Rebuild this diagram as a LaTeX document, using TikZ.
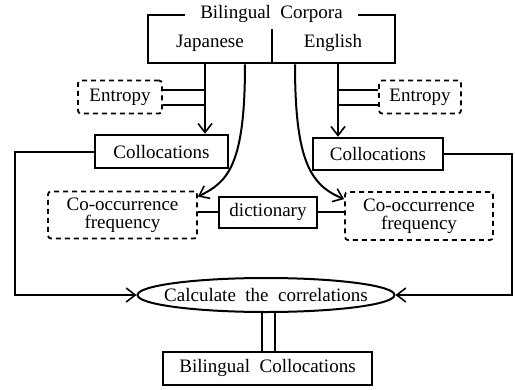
\documentclass[tikz,border=0pt]{standalone}
\usepackage{fontspec}
\setmainfont{Liberation Serif}
\usetikzlibrary{shapes.geometric,arrows.meta}
\tikzset{
	lbl/.style={font=\fontsize{19}{18}\selectfont, inner sep=0pt},
	solidbox/.style={draw, line width=2.5pt, lbl, rectangle},
	dashbox/.style={draw, line width=1.8pt, dash pattern=on 5pt off 4pt, lbl, align=center, rounded corners=3pt},
	conn/.style={line width=2pt},
	arr/.style={conn, -{Straight Barb[length=9pt,width=14pt,line width=1.6pt]}}
}
\begin{document}
\begin{tikzpicture}[x=1pt,y=-1pt]
		\useasboundingbox (0,0) rectangle (515,389);
		\node[solidbox, minimum width=247, minimum height=48] (corpora) at (271.5,39) {};
		\node[lbl, fill=white, inner xsep=15pt] (title) at (corpora.north) {Bilingual\ \ Corpora};
		\draw[conn] (corpora.south) -- ++(0,-35);
		\node[lbl] (jp) at (210,43) {Japanese};
		\node[lbl] (en) at (333,43) {English};

		\coordinate (jpA) at (205,0);
		\coordinate (jpB) at (245,0);
		\coordinate (enB) at (295,0);
		\coordinate (enA) at (338,0);
		\coordinate (sideL) at (15,0);
		\coordinate (sideR) at (512,0);

		\node[dashbox, minimum width=84, minimum height=33] (entL) at (120,97) {Entropy};
		\node[dashbox, minimum width=82, minimum height=33] (entR) at (420,97) {Entropy};
		\node[solidbox, minimum width=133, minimum height=33] (colL) at (161.5,151.5) {Collocations};
		\node[solidbox, minimum width=130, minimum height=32] (colR) at (378,154) {Collocations};
		\node[dashbox, minimum width=149, minimum height=47] (cooL) at (122.5,215) {Co-occurrence\\frequency};
		\node[dashbox, minimum width=148, minimum height=48] (cooR) at (419,216) {Co-occurrence\\frequency};
		\node[solidbox, line width=2pt, minimum width=98, minimum height=31] (dict) at (268,212) {dictionary};
		\node[draw, ellipse, conn, minimum width=257, minimum height=34, label={[lbl]center:Calculate\ \ the\ \ correlations}] (corr) at (266,295) {};
		\node[solidbox, line width=2pt, minimum width=209, minimum height=33] (bicol) at (267.5,368) {Bilingual\ \ Collocations};

		\draw[arr] (corpora.south -| jpA) -- (colL.north -| jpA);
		\draw[arr] (corpora.south -| enA) -- (colR.north -| enA);
		\foreach \dy in {-7.5,7.5}{
		\draw[conn] ([yshift=\dy]entL.east) -- ([yshift=\dy]entL.east -| jpA);
		\draw[conn] ([yshift=\dy]entR.west) -- ([yshift=\dy]entR.west -| enA);
		};
		\draw[arr] (corpora.south -| jpB) .. controls (245,165) and (228,182) .. ([yshift=-6]cooL.north east);
		\draw[arr] (corpora.south -| enB) .. controls (295,160) and (310,185) .. ([yshift=-8]cooR.north west);

		\draw[conn] (dict.west) -- (dict.west -| cooL.east);
		\draw[conn] (dict.east) -- (dict.east -| cooR.west);

		\draw[arr] (colL.west) -- (colL.west -| sideL) |- (corr.west);
		\draw[arr] (colR.east) -- (colR.east -| sideR) |- (corr.east);
		\foreach \dx in {-5.5,7.5}
		\draw[conn] ([xshift=\dx]bicol.north) -- ([xshift=\dx]bicol.north |- corr.south);
	\end{tikzpicture}
\end{document}
